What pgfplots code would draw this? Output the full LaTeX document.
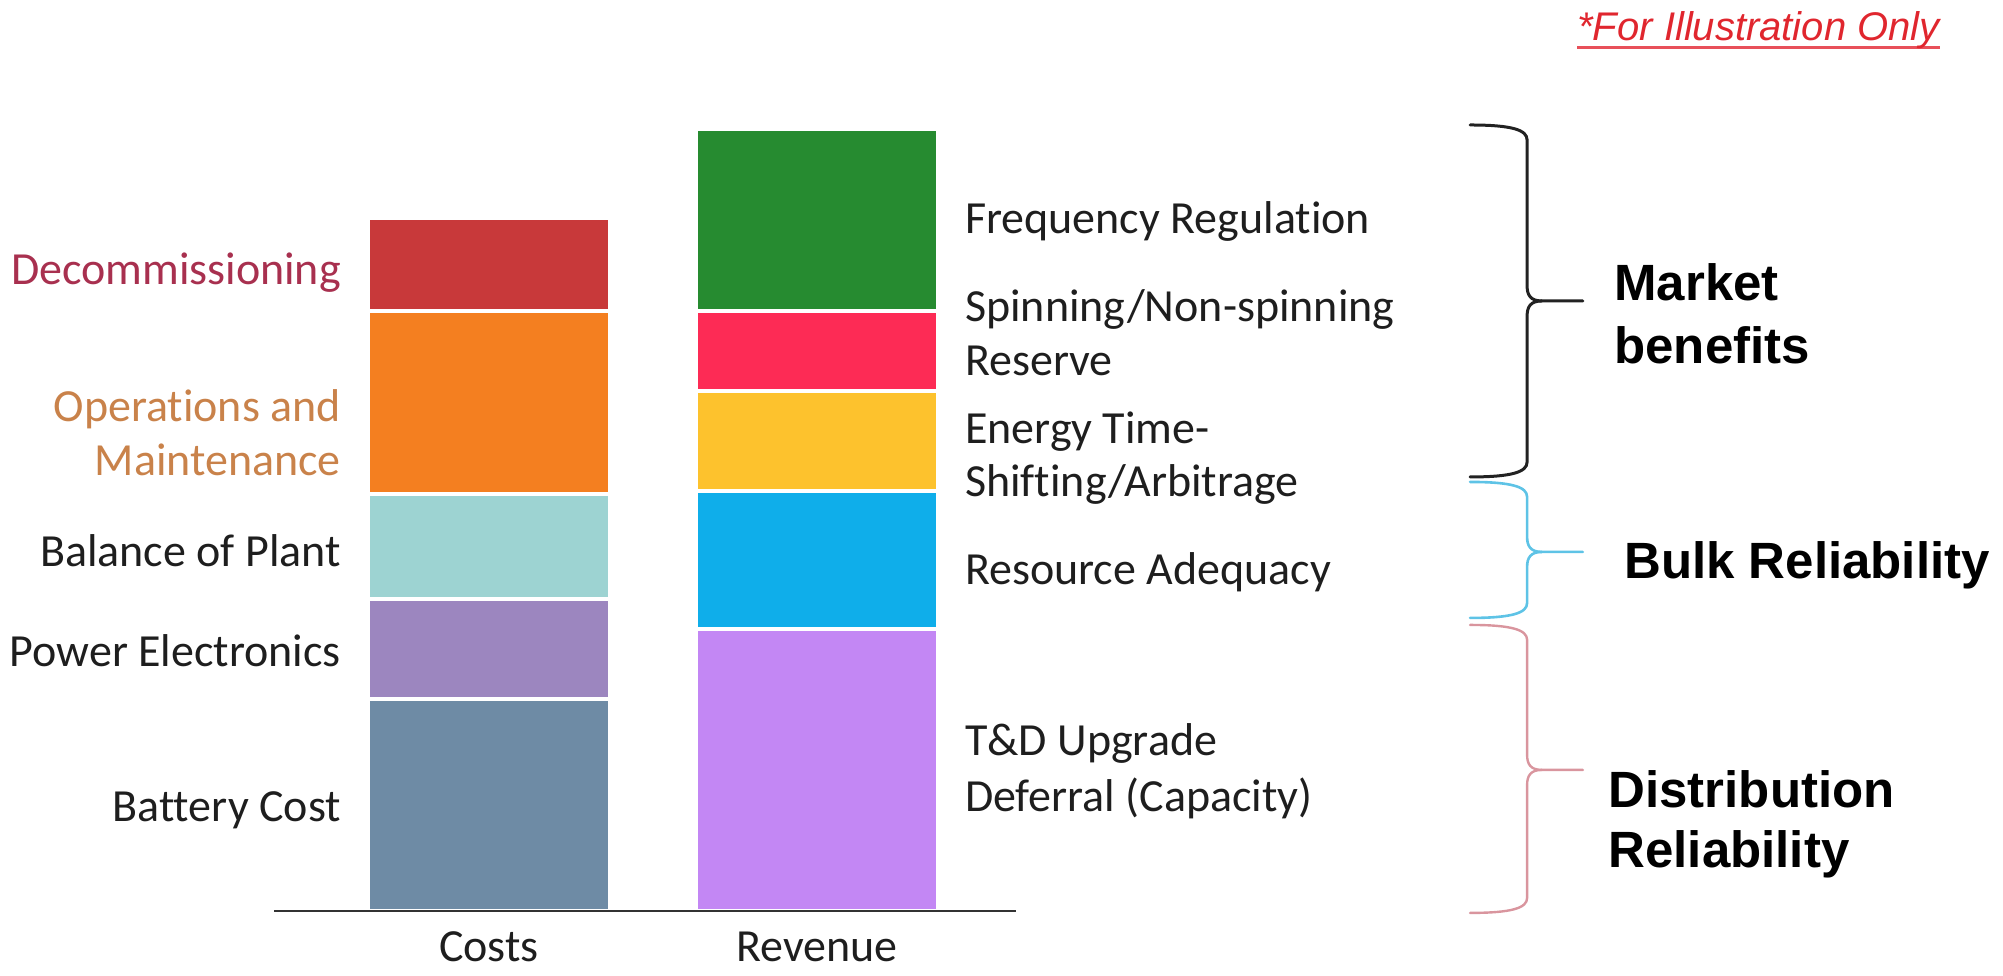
\documentclass[border=0pt]{standalone}
\usepackage{fontspec}
\setmainfont{Carlito}[Ligatures=NoCommon]
\newfontfamily\arialfont{Liberation Sans}
\usepackage{pgfplots}
\pgfplotsset{compat=1.18}

% segment colours
\definecolor{cDecom}{HTML}{C8393A}
\definecolor{cOM}{HTML}{F47F20}
\definecolor{cBoP}{HTML}{9DD3D2}
\definecolor{cPE}{HTML}{9C86BF}
\definecolor{cBat}{HTML}{6E8BA5}
\definecolor{cFreq}{HTML}{268B30}
\definecolor{cSpin}{HTML}{FD2B55}
\definecolor{cEnergy}{HTML}{FDC22D}
\definecolor{cRA}{HTML}{0FAEEA}
\definecolor{cTD}{HTML}{C387F4}
% text and bracket colours
\definecolor{tDecom}{HTML}{A8304F}
\definecolor{tOM}{HTML}{C9824A}
\definecolor{txt}{HTML}{1E1E1E}
\definecolor{noteRed}{HTML}{E0262E}
\definecolor{noteLine}{HTML}{E8505A}
\definecolor{bBlack}{HTML}{222222}
\definecolor{bBlue}{HTML}{5EC3E6}
\definecolor{bPink}{HTML}{D9959E}

\newcommand{\lbl}{\fontsize{23}{27}\selectfont}
\newcommand{\grp}{\arialfont\bfseries\fontsize{25.5}{31}\selectfont}
% heavier underline for the note
\newcommand{\thickul}[1]{\setbox0\hbox{#1}\rlap{\color{noteLine}\rule[-3.9pt]{\wd0}{1.6pt}}\box0}

% right curly bracket: #1 top, #2 tip, #3 bottom, #4 style
\newcommand{\grpbrace}[4]{%
  \draw[#4, line cap=round, line join=round]
    (axis cs:2.991,#1) .. controls (axis cs:3.12,#1) and (axis cs:3.165,#1-0.5) .. (axis cs:3.165,#1-1.5)
    -- (axis cs:3.165,#2+1.5) .. controls (axis cs:3.165,#2+0.6) and (axis cs:3.175,#2) .. (axis cs:3.21,#2)
    -- (axis cs:3.335,#2);
  \draw[#4, line cap=round, line join=round]
    (axis cs:3.21,#2) .. controls (axis cs:3.175,#2) and (axis cs:3.165,#2-0.6) .. (axis cs:3.165,#2-1.5)
    -- (axis cs:3.165,#3+1.5) .. controls (axis cs:3.165,#3+0.5) and (axis cs:3.12,#3) .. (axis cs:2.991,#3);
}

\begin{document}
\begin{tikzpicture}
\begin{axis}[
  scale only axis,
  width=371pt, height=400pt,
  xmin=-0.655, xmax=1.607, ymin=0, ymax=80,
  axis x line*=bottom, axis y line=none,
  x axis line style={draw=black!80, line width=1.3pt, -},
  xtick={0,1}, xticklabels={Costs,Revenue},
  ytick=\empty, major tick length=0pt,
  xticklabel style={font=\lbl, text=txt, anchor=base, yshift=-25.5pt},
  ybar stacked, bar width=0.738,
  every axis plot/.append style={draw=white, line width=2pt},
  clip=false, axis on top,
]
% Costs stack (x = 0)
\addplot[fill=cBat]    coordinates {(0,21.2) (1,0)};
\addplot[fill=cPE]     coordinates {(0,10.0) (1,0)};
\addplot[fill=cBoP]    coordinates {(0,10.5) (1,0)};
\addplot[fill=cOM]     coordinates {(0,18.3) (1,0)};
\addplot[fill=cDecom]  coordinates {(0,9.3)  (1,0)};
% Revenue stack (x = 1)
\addplot[fill=cTD]     coordinates {(0,0) (1,28.2)};
\addplot[fill=cRA]     coordinates {(0,0) (1,13.8)};
\addplot[fill=cEnergy] coordinates {(0,0) (1,10.0)};
\addplot[fill=cSpin]   coordinates {(0,0) (1,8.0)};
\addplot[fill=cFreq]   coordinates {(0,0) (1,18.2)};

% cost labels
\node[anchor=base east, font=\lbl, text=tDecom] at (axis cs:-0.43,62.6) {Decommissioning};
\node[anchor=base east, font=\lbl, text=tOM] at (axis cs:-0.43,48.9) {Operations and};
\node[anchor=base east, font=\lbl, text=tOM] at (axis cs:-0.43,43.5) {Maintenance};
\node[anchor=base east, font=\lbl, text=txt] at (axis cs:-0.43,34.4) {Balance of Plant};
\node[anchor=base east, font=\lbl, text=txt] at (axis cs:-0.43,24.4) {Power Electronics};
\node[anchor=base east, font=\lbl, text=txt] at (axis cs:-0.43,8.9) {Battery Cost};

% revenue labels
\node[anchor=base west, font=\lbl, text=txt] at (axis cs:1.43,67.7) {Frequency Regulation};
\node[anchor=base west, font=\lbl, text=txt] at (axis cs:1.43,58.9) {Spinning/Non-spinning};
\node[anchor=base west, font=\lbl, text=txt] at (axis cs:1.43,53.5) {Reserve};
\node[anchor=base west, font=\lbl, text=txt] at (axis cs:1.43,46.7) {Energy Time-};
\node[anchor=base west, font=\lbl, text=txt] at (axis cs:1.43,41.4) {Shifting/Arbitrage};
\node[anchor=base west, font=\lbl, text=txt] at (axis cs:1.43,32.6) {Resource Adequacy};
\node[anchor=base west, font=\lbl, text=txt] at (axis cs:1.43,15.5) {T\&D Upgrade};
\node[anchor=base west, font=\lbl, text=txt] at (axis cs:1.43,9.9) {Deferral (Capacity)};

% benefit groups
\grpbrace{78.6}{61.0}{43.4}{bBlack, line width=1.5pt}
\grpbrace{42.9}{35.9}{29.3}{bBlue, line width=1.3pt}
\grpbrace{28.6}{14.1}{-0.2}{bPink, line width=1.2pt}
\node[anchor=base west, font=\grp, text=black, inner sep=0pt] at (axis cs:3.430,61.0) {Market};
\node[anchor=base west, font=\grp, text=black, inner sep=0pt] at (axis cs:3.430,54.7) {benefits};
\node[anchor=base west, font=\grp, text=black, inner sep=0pt] at (axis cs:3.460,33.2) {Bulk Reliability};
\node[anchor=base west, font=\grp, text=black, inner sep=0pt] at (axis cs:3.412,10.3) {Distribution};
\node[anchor=base west, font=\grp, text=black, inner sep=0pt] at (axis cs:3.412,4.3) {Reliability};

% note
\node[anchor=base west, inner sep=0pt, text=noteRed,
      font=\arialfont\itshape\fontsize{20}{24}\selectfont] at (axis cs:3.317,87.0) {\thickul{*For Illustration Only}};

\coordinate (BL) at (axis cs:-1.4909,-6.5);
\coordinate (TR) at (axis cs:4.6159,91.1);
\end{axis}
\pgfresetboundingbox
\path[use as bounding box] (BL) rectangle (TR);
\end{tikzpicture}
\end{document}
